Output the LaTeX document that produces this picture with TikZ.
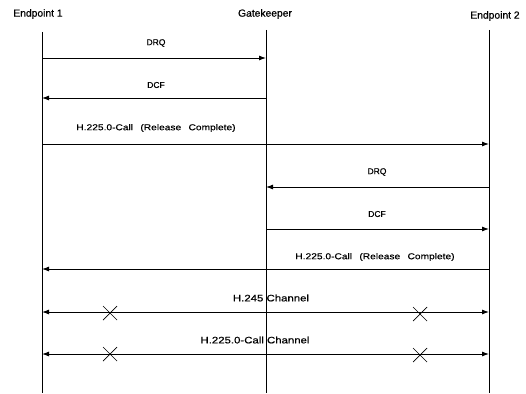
\documentclass[tikz,border=0pt]{standalone}
\usepackage{fontspec}
\setmainfont{Liberation Sans}
\newfontfamily\widefont{Liberation Sans}[FakeStretch=1.2,FakeBold=0.5]
\newfontfamily\heavyfont{Liberation Sans}[FakeBold=0.5]
\usetikzlibrary{arrows.meta}
\newcommand{\wsp}{\hspace{4.5pt}}
\begin{document}
\begin{tikzpicture}[x=1pt,y=-1pt,
  lbl/.style={font=\heavyfont\fontsize{8.5}{10}\selectfont, inner sep=1pt},
  wlbl/.style={font=\widefont\fontsize{8.5}{10}\selectfont, inner sep=1pt},
  clbl/.style={font=\widefont\fontsize{9.5}{11}\selectfont, inner sep=1pt},
  big/.style={font=\heavyfont\fontsize{10.3}{12}\selectfont, inner sep=1pt},
  msg/.style={line width=0.9pt, -{Latex[length=7pt,width=5pt]}},
  chan/.style={line width=0.9pt, {Latex[length=7pt,width=5pt]}-{Latex[length=7pt,width=5pt]}},
  life/.style={line width=0.8pt},
  xmark/.style={line width=0.7pt}]
\useasboundingbox (0,0) rectangle (526,393);
% headers
\node[big] (h1) at (38,14) {Endpoint 1};
\node[big] (h2) at (265,14) {Gatekeeper};
\node[big] (h3) at (495,16) {Endpoint 2};
% lifelines
\coordinate (e1t) at (42,32); \coordinate (e1b) at (42,393);
\coordinate (gkt) at (266,30); \coordinate (gkb) at (266,393);
\coordinate (e2t) at (489,30); \coordinate (e2b) at (489,393);
\draw[life] (e1t) -- (e1b);
\draw[life] (gkt) -- (gkb);
\draw[life] (e2t) -- (e2b);
% messages
\coordinate (a1s) at (42,58); \coordinate (a1e) at (266,58);
\draw[msg] (a1s) -- (a1e);
\node[lbl] (l1) at (156,43) {DRQ};
\coordinate (a2s) at (266,98); \coordinate (a2e) at (42,98);
\draw[msg] (a2s) -- (a2e);
\node[lbl] (l2) at (156,85) {DCF};
\coordinate (a3s) at (42,144); \coordinate (a3e) at (489,144);
\draw[msg] (a3s) -- (a3e);
\node[wlbl] (l3) at (156,128) {H.225.0-Call \wsp(Release \wsp Complete)};
\coordinate (a4s) at (489,187); \coordinate (a4e) at (266,187);
\draw[msg] (a4s) -- (a4e);
\node[lbl] (l4) at (377,172) {DRQ};
\coordinate (a5s) at (266,229); \coordinate (a5e) at (489,229);
\draw[msg] (a5s) -- (a5e);
\node[lbl] (l5) at (377,214) {DCF};
\coordinate (a6s) at (489,269); \coordinate (a6e) at (42,269);
\draw[msg] (a6s) -- (a6e);
\node[wlbl] (l6) at (375,257) {H.225.0-Call \wsp(Release \wsp Complete)};
% channels
\coordinate (c1s) at (42,312); \coordinate (c1e) at (489,312);
\draw[chan] (c1s) -- (c1e);
\node[clbl] (l7) at (271,298) {H.245 Channel};
\coordinate (c2s) at (42,354); \coordinate (c2e) at (489,354);
\draw[chan] (c2s) -- (c2e);
\node[clbl] (l8) at (255,340) {H.225.0-Call Channel};
% X marks
\foreach \px/\py in {110/313, 420/314, 110/354, 420/355}{
  \draw[xmark] (\px-7,\py-7) -- (\px+7,\py+7);
  \draw[xmark] (\px-7,\py+7) -- (\px+7,\py-7);
}
\end{tikzpicture}
\end{document}
